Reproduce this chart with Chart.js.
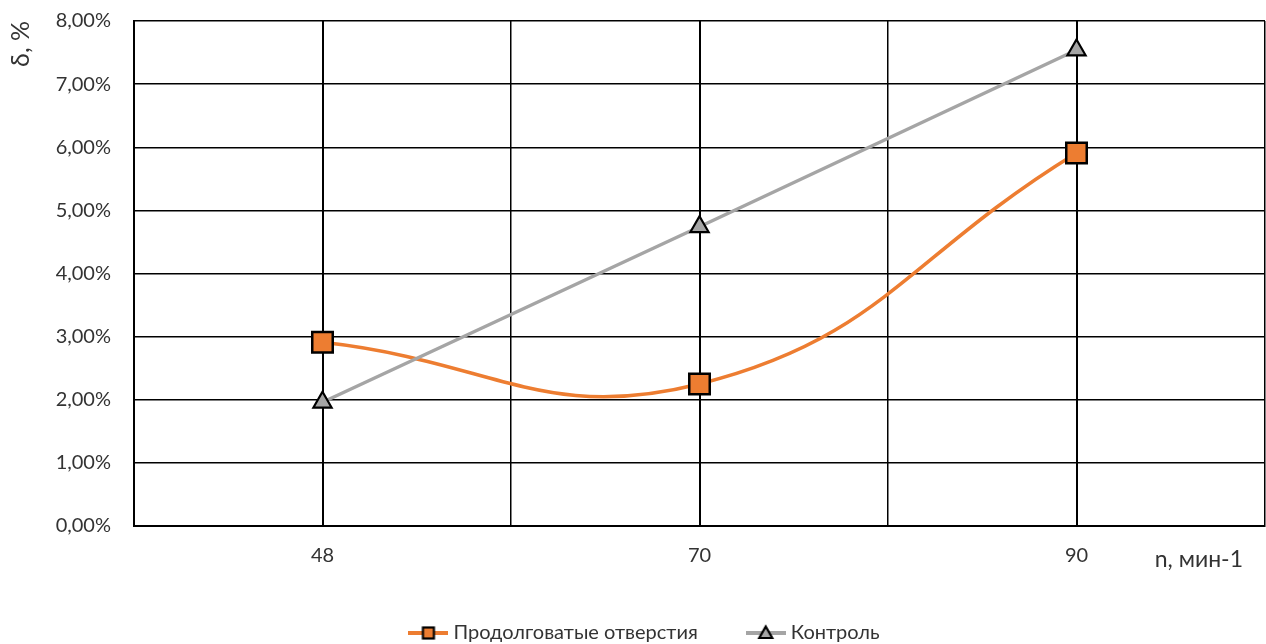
<!DOCTYPE html>
<html lang="ru">
<head>
<meta charset="utf-8">
<title>δ, % — n, мин-1</title>
<script src="https://cdn.jsdelivr.net/npm/chart.js@4.4.1/dist/chart.umd.min.js"></script>
<style>
  html, body { margin: 0; padding: 0; background: #ffffff; overflow: hidden; }
  #wrap { position: relative; width: 1266px; height: 644px; }
</style>
</head>
<body>
<div id="wrap"><canvas id="chart"></canvas></div>
<script>
// Rotation speed categories, min^-1
const categories = ['48', '70', '90'];
// Deviation δ, % — slotted holes
const slotValues = [2.91, 2.25, 5.91];
// Deviation δ, % — control
const controlValues = [1.96, 4.74, 7.54];
// Series names
const seriesNames = ['Продолговатые отверстия', 'Контроль'];
// Axis titles
const yTitle = 'δ, %';
const xTitle = 'n, мин-1';

const ORANGE = '#ED7D31';
const GREY = '#A5A5A5';
const TEXT = '#333333';
const FONT = 'Lato, "Open Sans", sans-serif';

// Small legend swatch: line segment with the series marker in the middle
function legendSwatch(color, shape) {
  const c = document.createElement('canvas');
  c.width = 40; c.height = 20;
  const g = c.getContext('2d');
  g.strokeStyle = color;
  g.lineWidth = 4;
  g.beginPath(); g.moveTo(0, 10); g.lineTo(40, 10); g.stroke();
  g.lineWidth = 2.2;
  g.strokeStyle = '#000';
  g.lineJoin = 'miter';
  if (shape === 'rect') {
    g.fillStyle = color;
    g.fillRect(14.5, 4.5, 11, 11);
    g.strokeRect(14.5, 4.5, 11, 11);
  } else {
    g.fillStyle = GREY;
    g.beginPath();
    g.moveTo(20, 3.5); g.lineTo(26.5, 15); g.lineTo(13.5, 15); g.closePath();
    g.fill(); g.stroke();
  }
  return c;
}

// Axis label sitting at the right end of the category row
const xTitlePlugin = {
  id: 'xTitleRight',
  afterDraw(chart) {
    const { ctx, chartArea, scales } = chart;
    ctx.save();
    ctx.font = '23px ' + FONT;
    ctx.fillStyle = TEXT;
    ctx.textAlign = 'right';
    ctx.textBaseline = 'middle';
    ctx.fillText(xTitle, chartArea.right - 22, scales.x.top + 34);
    ctx.restore();
  }
};

const percent = v => v.toFixed(2).replace('.', ',') + '%';

new Chart(document.getElementById('chart'), {
  type: 'line',
  data: {
    labels: categories,
    datasets: [
      {
        label: seriesNames[0],
        data: slotValues,
        borderColor: ORANGE,
        backgroundColor: ORANGE,
        borderWidth: 3.5,
        tension: 0.45,
        pointStyle: 'rect',
        pointRadius: 14.5,
        pointHoverRadius: 14.5,
        pointBackgroundColor: ORANGE,
        pointBorderColor: '#000',
        pointBorderWidth: 2.5,
        order: 1,
        clip: false
      },
      {
        label: seriesNames[1],
        data: controlValues,
        borderColor: GREY,
        backgroundColor: GREY,
        borderWidth: 3.5,
        tension: 0,
        pointStyle: 'triangle',
        pointRadius: 10.5,
        pointHoverRadius: 10.5,
        pointBackgroundColor: GREY,
        pointBorderColor: '#000',
        pointBorderWidth: 2.2,
        order: 0,
        clip: false
      }
    ]
  },
  options: {
    responsive: true,
    maintainAspectRatio: false,
    animation: false,
    layout: { autoPadding: false, padding: { top: 21, right: 1, bottom: 0, left: 28 } },
    plugins: {
      tooltip: { enabled: false },
      legend: {
        position: 'bottom',
        maxHeight: 74,
        labels: {
          usePointStyle: true,
          pointStyleWidth: 30,
          padding: 53,
          color: TEXT,
          font: { family: FONT, size: 20 },
          sort: (a, b) => a.datasetIndex - b.datasetIndex,
          generateLabels(chart) {
            const shapes = ['rect', 'triangle'];
            const colors = [ORANGE, GREY];
            return chart.data.datasets.map((ds, i) => ({
              text: ds.label,
              datasetIndex: i,
              pointStyle: legendSwatch(colors[i], shapes[i]),
              fillStyle: colors[i],
              strokeStyle: colors[i],
              lineWidth: 0,
              fontColor: TEXT,
              hidden: false
            }));
          }
        }
      }
    },
    scales: {
      x: {
        type: 'category',
        offset: true,
        grid: { offset: true, color: '#000', lineWidth: 1.5, drawTicks: true, tickLength: 18, tickColor: 'rgba(0,0,0,0)' },
        border: { color: '#000', width: 2 },
        ticks: { color: TEXT, font: { family: FONT, size: 20 }, padding: 0, maxRotation: 0 },
        afterFit(scale) { scale.height = 44; scale.paddingLeft = 0; scale.paddingRight = 0; }
      },
      xc: {
        type: 'category',
        position: 'bottom',
        offset: true,
        grid: { offset: false, color: '#000', lineWidth: 2, drawTicks: false },
        border: { display: false },
        ticks: { display: false },
        afterFit(scale) { scale.height = 0; scale.paddingLeft = 0; scale.paddingRight = 0; }
      },
      y: {
        min: 0,
        max: 8,
        grid: { color: '#000', lineWidth: 1.5, drawTicks: true, tickLength: 23, tickColor: 'rgba(0,0,0,0)' },
        border: { color: '#000', width: 2 },
        ticks: {
          stepSize: 1,
          padding: 0,
          color: TEXT,
          font: { family: FONT, size: 20 },
          callback: v => percent(v)
        },
        title: {
          display: true,
          text: yTitle,
          align: 'end',
          color: TEXT,
          font: { family: FONT, size: 25 },
          padding: { top: -22, bottom: 0 }
        },
        afterFit(scale) { scale.width = 106; }
      }
    }
  },
  plugins: [xTitlePlugin]
});
</script>
</body>
</html>
